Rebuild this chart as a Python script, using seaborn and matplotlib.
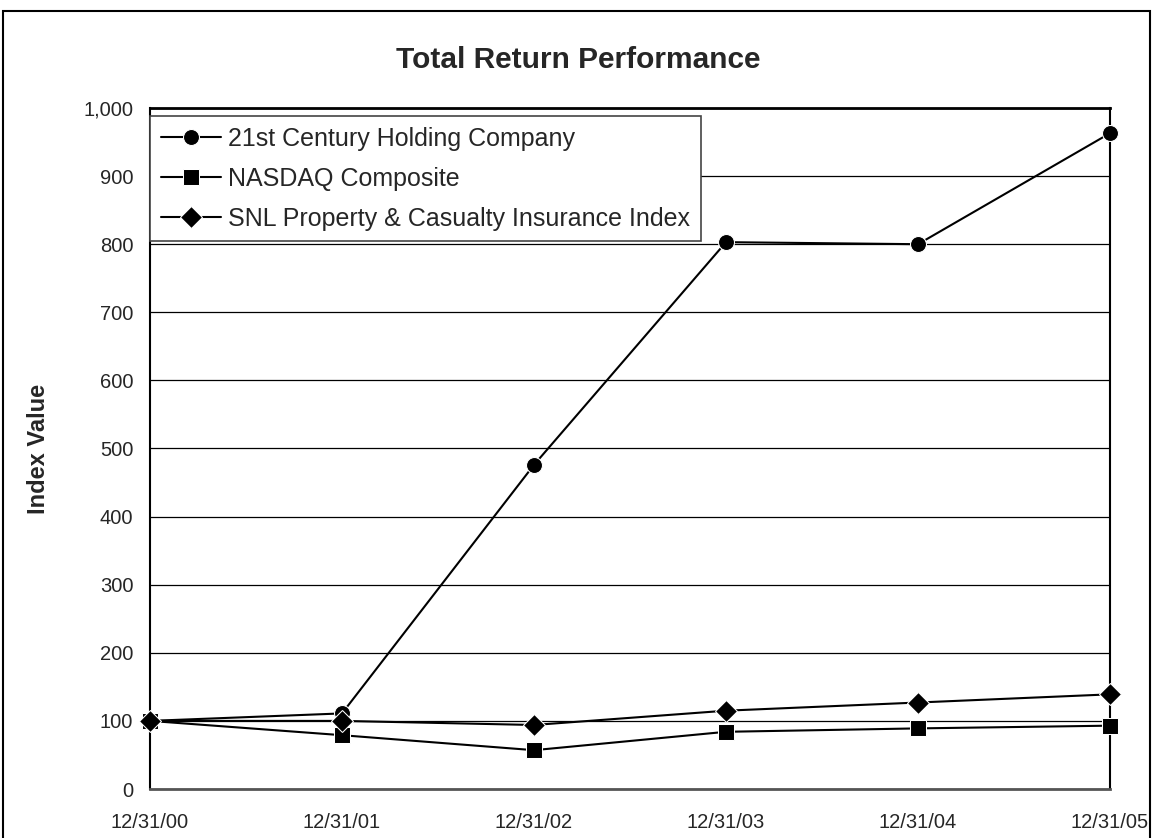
import pandas as pd
import matplotlib.pyplot as plt
import seaborn as sns
from matplotlib.patches import Rectangle

# Data
dates = ["12/31/00", "12/31/01", "12/31/02", "12/31/03", "12/31/04", "12/31/05"]
century = [100, 111, 476, 803, 800, 963]
nasdaq = [100, 79, 57, 84, 89, 93]
snl = [100, 100, 94, 115, 127, 139]
series_names = ["21st Century Holding Company", "NASDAQ Composite",
                "SNL Property & Casualty Insurance Index"]

rows = []
for name, vals in zip(series_names, [century, nasdaq, snl]):
    for i, v in enumerate(vals):
        rows.append({"pos": i, "Series": name, "Value": v})
df = pd.DataFrame(rows)

sns.set_style("white")
plt.rcParams['font.family'] = ['Liberation Sans', 'DejaVu Sans']

fig = plt.figure(figsize=(11.56, 8.38), dpi=100)
ax = fig.add_axes([150 / 1156, 1 - 789 / 838, 960 / 1156, 681 / 838])

# outer chart frame
fig.patches.append(Rectangle((3 / 1156, -0.05), 1147 / 1156, 1 - 11 / 838 + 0.05,
                             transform=fig.transFigure, fill=False,
                             edgecolor="black", linewidth=1.5))

sns.lineplot(
    data=df, x="pos", y="Value", style="Series", markers=["o", "s", "D"],
    dashes=False, color="black", linewidth=1.5, markersize=11.5,
    ax=ax, clip_on=False, zorder=3
)

ax.set_xlim(0, 5)
ax.set_ylim(0, 1000)
ax.set_xticks(range(len(dates)))
ax.set_xticklabels(dates, fontsize=14.5)
ax.set_yticks(range(0, 1001, 100))
ax.set_yticklabels([f"{v:,}" for v in range(0, 1001, 100)], fontsize=14.5)
ax.tick_params(axis="x", direction="out", length=7, width=1, pad=10, color="#555555")
ax.tick_params(axis="y", direction="out", length=5, width=1, pad=7)
ax.grid(axis="y", color="black", linewidth=0.9)
for side in ["left", "bottom", "right", "top"]:
    ax.spines[side].set_visible(True)
    ax.spines[side].set_color("black")
    ax.spines[side].set_linewidth(1.5)
ax.spines["top"].set_linewidth(2)
ax.spines["bottom"].set_color("#555555")
ax.spines["bottom"].set_linewidth(2)

ax.set_xlabel("")
ax.set_ylabel("Index Value", fontsize=17, fontweight="bold")
ax.yaxis.set_label_coords(-0.104, 0.5)
fig.text(0.5, 1 - 60 / 838, "Total Return Performance", ha="center", va="center",
         fontsize=21.5, fontweight="bold")

leg = ax.legend(loc="upper left", bbox_to_anchor=(0.0, 0.988), borderaxespad=0,
                fontsize=18, frameon=True, fancybox=False, edgecolor="#444444",
                handlelength=2.4, borderpad=0.42, labelspacing=0.64,
                handletextpad=0.3)
leg.get_frame().set_linewidth(1.2)
leg.get_frame().set_alpha(1)

fig.savefig("out.png", dpi=100)
